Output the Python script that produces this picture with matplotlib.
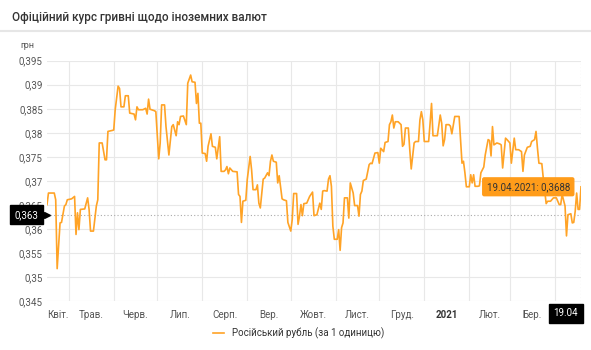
import matplotlib
matplotlib.use("Agg")
import matplotlib.pyplot as plt
import matplotlib.dates as mdates
import pandas as pd

# Official UAH rate for the Russian rouble (per 1 unit)
dates = [
    "2020-04-16", "2020-04-17", "2020-04-21", "2020-04-22", "2020-04-23", "2020-04-25",
    "2020-04-26", "2020-04-28", "2020-04-29", "2020-04-30", "2020-05-03", "2020-05-05",
    "2020-05-06", "2020-05-07", "2020-05-08", "2020-05-09", "2020-05-12", "2020-05-14",
    "2020-05-15", "2020-05-16", "2020-05-18", "2020-05-20", "2020-05-21", "2020-05-22",
    "2020-05-24", "2020-05-26", "2020-05-27", "2020-05-28", "2020-05-31", "2020-06-01",
    "2020-06-02", "2020-06-04", "2020-06-05", "2020-06-06", "2020-06-08", "2020-06-09",
    "2020-06-11", "2020-06-12", "2020-06-15", "2020-06-16", "2020-06-17", "2020-06-18",
    "2020-06-21", "2020-06-23", "2020-06-24", "2020-06-25", "2020-06-26", "2020-06-29",
    "2020-06-30", "2020-07-02", "2020-07-03", "2020-07-04", "2020-07-06", "2020-07-07",
    "2020-07-09", "2020-07-11", "2020-07-12", "2020-07-14", "2020-07-15", "2020-07-16",
    "2020-07-17", "2020-07-19", "2020-07-21", "2020-07-22", "2020-07-24", "2020-07-25",
    "2020-07-27", "2020-07-28", "2020-07-29", "2020-07-30", "2020-07-31", "2020-08-01",
    "2020-08-03", "2020-08-04", "2020-08-05", "2020-08-07", "2020-08-08", "2020-08-10",
    "2020-08-11", "2020-08-13", "2020-08-14", "2020-08-16", "2020-08-17", "2020-08-18",
    "2020-08-19", "2020-08-20", "2020-08-22", "2020-08-25", "2020-08-26", "2020-08-27",
    "2020-08-28", "2020-08-29", "2020-08-31", "2020-09-01", "2020-09-03", "2020-09-04",
    "2020-09-05", "2020-09-07", "2020-09-08", "2020-09-09", "2020-09-10", "2020-09-12",
    "2020-09-13", "2020-09-15", "2020-09-16", "2020-09-17", "2020-09-18", "2020-09-19",
    "2020-09-21", "2020-09-22", "2020-09-23", "2020-09-25", "2020-09-26", "2020-09-28",
    "2020-09-29", "2020-10-01", "2020-10-02", "2020-10-03", "2020-10-05", "2020-10-06",
    "2020-10-07", "2020-10-08", "2020-10-09", "2020-10-10", "2020-10-12", "2020-10-14",
    "2020-10-16", "2020-10-17", "2020-10-19", "2020-10-21", "2020-10-22", "2020-10-23",
    "2020-10-24", "2020-10-26", "2020-10-27", "2020-10-28", "2020-10-29", "2020-10-30",
    "2020-10-31", "2020-11-02", "2020-11-03", "2020-11-04", "2020-11-05", "2020-11-06",
    "2020-11-07", "2020-11-09", "2020-11-10", "2020-11-11", "2020-11-13", "2020-11-14",
    "2020-11-16", "2020-11-17", "2020-11-18", "2020-11-19", "2020-11-20", "2020-11-22",
    "2020-11-24", "2020-11-25", "2020-11-26", "2020-11-28", "2020-11-30", "2020-12-01",
    "2020-12-02", "2020-12-04", "2020-12-05", "2020-12-07", "2020-12-08", "2020-12-09",
    "2020-12-10", "2020-12-11", "2020-12-12", "2020-12-14", "2020-12-16", "2020-12-17",
    "2020-12-18", "2020-12-19", "2020-12-21", "2020-12-22", "2020-12-23", "2020-12-25",
    "2020-12-26", "2020-12-28", "2020-12-29", "2020-12-30", "2020-12-31", "2021-01-01",
    "2021-01-04", "2021-01-05", "2021-01-06", "2021-01-07", "2021-01-10", "2021-01-12",
    "2021-01-13", "2021-01-14", "2021-01-15", "2021-01-16", "2021-01-18", "2021-01-19",
    "2021-01-20", "2021-01-22", "2021-01-25", "2021-01-26", "2021-01-27", "2021-01-28",
    "2021-01-29", "2021-01-30", "2021-02-01", "2021-02-02", "2021-02-03", "2021-02-04",
    "2021-02-05", "2021-02-07", "2021-02-08", "2021-02-09", "2021-02-11", "2021-02-12",
    "2021-02-14", "2021-02-15", "2021-02-16", "2021-02-17", "2021-02-18", "2021-02-20",
    "2021-02-22", "2021-02-23", "2021-02-24", "2021-02-26", "2021-02-27", "2021-03-01",
    "2021-03-02", "2021-03-04", "2021-03-05", "2021-03-07", "2021-03-09", "2021-03-10",
    "2021-03-11", "2021-03-13", "2021-03-15", "2021-03-16", "2021-03-18", "2021-03-19",
    "2021-03-20", "2021-03-21", "2021-03-23", "2021-03-24", "2021-03-25", "2021-03-26",
    "2021-03-27", "2021-03-29", "2021-03-31", "2021-04-02", "2021-04-04", "2021-04-05",
    "2021-04-06", "2021-04-08", "2021-04-09", "2021-04-10", "2021-04-12", "2021-04-13",
    "2021-04-14", "2021-04-15", "2021-04-16", "2021-04-17", "2021-04-18", "2021-04-19",
]

rub_rate = [
    0.3651, 0.3675, 0.3675, 0.3661, 0.3518, 0.3613,
    0.3614, 0.3648, 0.3651, 0.3661, 0.3663, 0.3668,
    0.3589, 0.3634, 0.3599, 0.3641, 0.3642, 0.3665,
    0.3641, 0.3596, 0.3596, 0.3648, 0.3661, 0.3779,
    0.3779, 0.3744, 0.3744, 0.3803, 0.3805, 0.3806,
    0.3848, 0.3897, 0.3892, 0.3854, 0.3854, 0.3877,
    0.3877, 0.3841, 0.3839, 0.3827, 0.3854, 0.3848,
    0.3848, 0.3851, 0.3839, 0.3870, 0.3849, 0.3846,
    0.3844, 0.3746, 0.3779, 0.3858, 0.3858, 0.3813,
    0.3754, 0.3813, 0.3817, 0.3794, 0.3823, 0.3817,
    0.3834, 0.3835, 0.3817, 0.3903, 0.3920, 0.3906,
    0.3905, 0.3861, 0.3882, 0.3820, 0.3820, 0.3758,
    0.3757, 0.3741, 0.3772, 0.3798, 0.3772, 0.3770,
    0.3746, 0.3792, 0.3720, 0.3720, 0.3723, 0.3730,
    0.3715, 0.3727, 0.3720, 0.3719, 0.3672, 0.3668,
    0.3614, 0.3658, 0.3660, 0.3703, 0.3751, 0.3723,
    0.3682, 0.3682, 0.3692, 0.3654, 0.3644, 0.3704,
    0.3706, 0.3717, 0.3711, 0.3741, 0.3754, 0.3741,
    0.3739, 0.3696, 0.3711, 0.3663, 0.3661, 0.3659,
    0.3614, 0.3596, 0.3620, 0.3674, 0.3674, 0.3610,
    0.3627, 0.3651, 0.3628, 0.3653, 0.3654, 0.3668,
    0.3677, 0.3628, 0.3630, 0.3654, 0.3641, 0.3679,
    0.3680, 0.3679, 0.3704, 0.3711, 0.3689, 0.3606,
    0.3579, 0.3579, 0.3599, 0.3556, 0.3603, 0.3613,
    0.3665, 0.3665, 0.3623, 0.3696, 0.3675, 0.3649,
    0.3649, 0.3627, 0.3672, 0.3679, 0.3701, 0.3704,
    0.3734, 0.3737, 0.3736, 0.3758, 0.3759, 0.3737,
    0.3768, 0.3761, 0.3780, 0.3782, 0.3817, 0.3823,
    0.3837, 0.3810, 0.3823, 0.3823, 0.3817, 0.3772,
    0.3776, 0.3810, 0.3810, 0.3765, 0.3725, 0.3779,
    0.3782, 0.3782, 0.3827, 0.3844, 0.3827, 0.3782,
    0.3782, 0.3820, 0.3861, 0.3794, 0.3794, 0.3837,
    0.3820, 0.3773, 0.3786, 0.3817, 0.3817, 0.3814,
    0.3798, 0.3834, 0.3834, 0.3786, 0.3737, 0.3741,
    0.3717, 0.3688, 0.3688, 0.3713, 0.3696, 0.3713,
    0.3689, 0.3689, 0.3690, 0.3717, 0.3729, 0.3754,
    0.3786, 0.3784, 0.3752, 0.3813, 0.3775, 0.3779,
    0.3777, 0.3775, 0.3727, 0.3789, 0.3786, 0.3779,
    0.3737, 0.3789, 0.3765, 0.3765, 0.3761, 0.3720,
    0.3754, 0.3770, 0.3772, 0.3782, 0.3786, 0.3803,
    0.3768, 0.3737, 0.3736, 0.3706, 0.3679, 0.3653,
    0.3658, 0.3658, 0.3665, 0.3665, 0.3651, 0.3651,
    0.3672, 0.3648, 0.3586, 0.3630, 0.3632, 0.3613,
    0.3614, 0.3637, 0.3675, 0.3641, 0.3641, 0.3688,
]

month_labels = ["Квіт.", "Трав.", "Черв.", "Лип.", "Серп.", "Вер.",
                "Жовт.", "Лист.", "Груд.", "2021", "Лют.", "Бер."]
y_ticks = [0.345, 0.35, 0.355, 0.36, 0.365, 0.37, 0.375, 0.38, 0.385, 0.39, 0.395]
crosshair_value = 0.363
series_name = "Російський рубль (за 1 одиницю)"
title = "Офіційний курс гривні щодо іноземних валют"

LINE = "#ffa326"
TEXT = "#555555"

plt.rcParams["font.family"] = ["Roboto", "DejaVu Sans"]

x = pd.to_datetime(dates)
start, end = x[0], x[-1]

fig = plt.figure(figsize=(5.91, 3.5), dpi=100)
ax = fig.add_axes([47 / 591, 1 - 301.4 / 350, (581 - 47) / 591, (301.4 - 60.6) / 350])

ax.plot(x, rub_rate, color=LINE, lw=1.2, label=series_name, zorder=3)
ax.set_xlim(start, end)
ax.set_ylim(y_ticks[0], y_ticks[-1])

# grid: month starts vertically, value ticks horizontally
ax.set_yticks(y_ticks)
ax.set_yticklabels([f"{v:.3f}".rstrip("0").replace(".", ",") for v in y_ticks])
ax.xaxis.set_major_locator(mdates.MonthLocator())
ax.xaxis.set_major_formatter(plt.NullFormatter())
ax.grid(True, color="#e8e8e8", lw=0.8)
for s in ax.spines.values():
    s.set_visible(False)
ax.tick_params(length=0, labelsize=7, colors=TEXT, pad=3)

# month labels centred on the visible part of each month
month_starts = pd.date_range(start.to_period("M").to_timestamp(), end, freq="MS")
label_pos = []
for m in month_starts[:len(month_labels)]:
    lo = max(m, start)
    hi = min(m + pd.offsets.MonthBegin(1), end)
    label_pos.append(lo + (hi - lo) / 2)
ax.set_xticks(label_pos, minor=True)
ax.set_xticklabels(month_labels, minor=True)
ax.tick_params(axis="x", which="minor", length=0, labelsize=7, colors=TEXT, pad=6)
for lbl in ax.get_xticklabels(minor=True):
    if lbl.get_text() == "2021":
        lbl.set_fontweight("bold")
        lbl.set_color("#333333")

# crosshair
ax.axhline(crosshair_value, color="#aaaaaa", lw=0.8, ls=(0, (1, 2)), zorder=2)
ax.axvline(end, color="#aaaaaa", lw=0.8, ls=(0, (1, 2)), zorder=2)
ax.annotate(f"{crosshair_value:.3f}".replace(".", ","), xy=(0, crosshair_value),
            xycoords=("axes fraction", "data"), xytext=(-6, 0), textcoords="offset points",
            ha="right", va="center", fontsize=7, color="white",
            bbox=dict(boxstyle="square,pad=0.45", fc="black", ec="black"),
            annotation_clip=False)
ax.plot([0], [crosshair_value], marker=">", color="black", ms=4,
        transform=ax.get_yaxis_transform(), clip_on=False)
ax.annotate(end.strftime("%d.%m"), xy=(end, 0), xycoords=("data", "axes fraction"),
            xytext=(-2, -5), textcoords="offset points", ha="right", va="top",
            fontsize=7, color="white",
            bbox=dict(boxstyle="square,pad=0.45", fc="black", ec="black"),
            annotation_clip=False)

# tooltip for last value
ax.annotate(f"{end.strftime('%d.%m.%Y')}: {rub_rate[-1]:.4f}".replace("0.", "0,"),
            xy=(end, rub_rate[-1]), xytext=(-8, 0), textcoords="offset points",
            ha="right", va="center", fontsize=7, color="#333333",
            bbox=dict(boxstyle="round,pad=0.4,rounding_size=0.15", fc="#ff9c1a", ec="#ff9c1a"),
            zorder=5)

fig.legend(loc="center", bbox_to_anchor=(0.505, 0.049), frameon=False, fontsize=7,
           handlelength=1.1, labelcolor="#333333")

fig.text(12 / 591, 1 - 17 / 350, title, fontsize=8.5, fontweight="medium",
         color="#333333", va="center")
fig.add_artist(plt.Line2D([0, 1], [1 - 31 / 350] * 2, color="#e6e6e6", lw=1.5))
fig.text(20 / 591, 1 - 46 / 350, "грн", fontsize=6.5, color=TEXT, va="center")

fig.savefig("out.png", dpi=100)
